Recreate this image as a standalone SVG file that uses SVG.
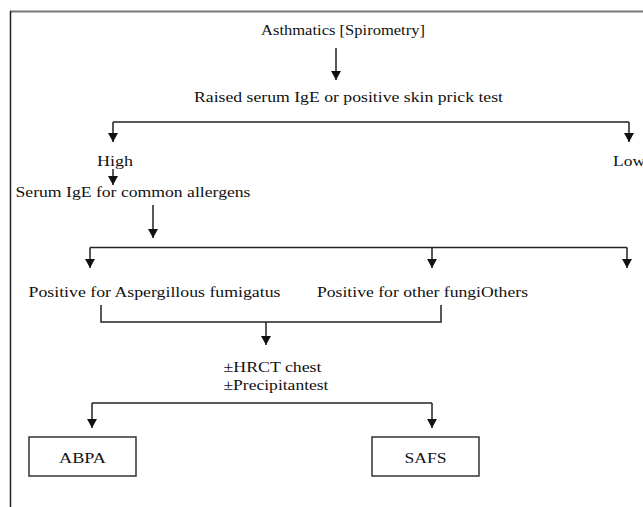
<svg xmlns="http://www.w3.org/2000/svg" width="643" height="507" viewBox="0 0 643 507">
<style>
text{font-family:"Liberation Serif","Times New Roman",serif;font-size:15px;fill:#111;}
.c{stroke:#222;stroke-width:1.5;fill:none;}
.a{stroke:#222;stroke-width:1.5;fill:none;marker-end:url(#ah);}
.box{fill:#fff;stroke:#333;stroke-width:1.5;}
</style>
<defs>
<marker id="ah" markerUnits="userSpaceOnUse" markerWidth="10" markerHeight="10" refX="9" refY="5" orient="auto">
<path d="M0,0 L9,5 L0,10 z" fill="#111"/>
</marker>
</defs>
<rect width="643" height="507" fill="#fff"/>
<g id="frame">
<line x1="10" y1="11.5" x2="643" y2="11.5" stroke="#777" stroke-width="2"/>
<line x1="10.5" y1="11" x2="10.5" y2="507" stroke="#222" stroke-width="1.5"/>
</g>
<g id="connectors">
<path class="a" d="M336 48 V80"/>
<path class="c" d="M113 122 H629"/>
<path class="a" d="M113 122 V142"/>
<path class="a" d="M629 122 V142"/>
<path class="a" d="M113 169 V185"/>
<path class="a" d="M153 205 V238"/>
<path class="c" d="M90 247.5 H627"/>
<path class="a" d="M90 247.5 V268"/>
<path class="a" d="M432 247.5 V268"/>
<path class="a" d="M627 247.5 V268"/>
<path class="c" d="M101 305 V322 H441 V305"/>
<path class="a" d="M266 322 V345"/>
<path class="c" d="M92 403 H432"/>
<path class="a" d="M92 403 V428"/>
<path class="a" d="M432 403 V428"/>
</g>
<g id="n-asthmatics"><text x="261" y="35" textLength="164" lengthAdjust="spacingAndGlyphs">Asthmatics [Spirometry]</text></g>
<g id="n-raised"><text x="194" y="102" textLength="309" lengthAdjust="spacingAndGlyphs">Raised serum IgE or positive skin prick test</text></g>
<g id="n-high"><text x="97" y="166" textLength="36" lengthAdjust="spacingAndGlyphs">High</text></g>
<g id="n-low"><text x="613" y="166" textLength="32" lengthAdjust="spacingAndGlyphs">Low</text></g>
<g id="n-serum"><text x="15.5" y="197" textLength="235" lengthAdjust="spacingAndGlyphs">Serum IgE for common allergens</text></g>
<g id="n-asp"><text x="28.5" y="297" textLength="252" lengthAdjust="spacingAndGlyphs">Positive for Aspergillous fumigatus</text></g>
<g id="n-other"><text x="317" y="297" textLength="211" lengthAdjust="spacingAndGlyphs">Positive for other fungiOthers</text></g>
<g id="n-tests">
<text x="223.5" y="372" textLength="98" lengthAdjust="spacingAndGlyphs">±HRCT chest</text>
<text x="223.5" y="390" textLength="105" lengthAdjust="spacingAndGlyphs">±Precipitantest</text>
</g>
<g id="n-abpa"><rect class="box" x="29" y="437" width="107" height="39"/><text x="82.5" y="463" text-anchor="middle" textLength="47" lengthAdjust="spacingAndGlyphs">ABPA</text></g>
<g id="n-safs"><rect class="box" x="372" y="437" width="107" height="39"/><text x="425.5" y="463" text-anchor="middle" textLength="42" lengthAdjust="spacingAndGlyphs">SAFS</text></g>
</svg>
